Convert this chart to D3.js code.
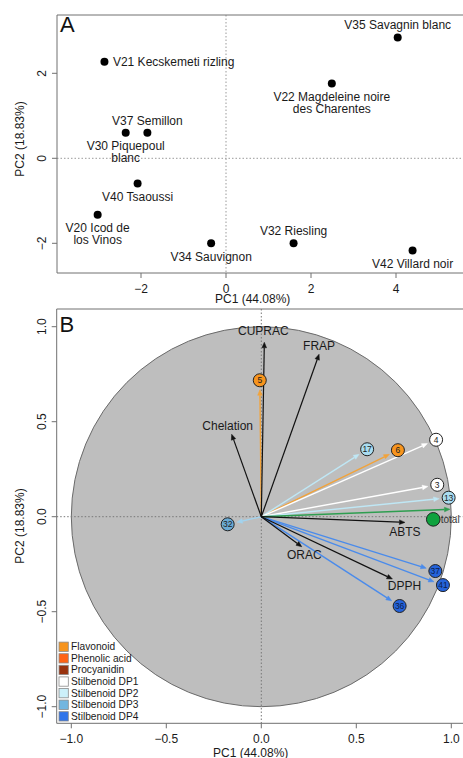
<!DOCTYPE html>
<html><head><meta charset="utf-8">
<script src="https://cdn.jsdelivr.net/npm/d3@7"></script>
<style>html,body{margin:0;padding:0;background:#fff}svg{display:block;font-family:"Liberation Sans",Arial,sans-serif}</style>
</head><body>
<script>
// ---- Panel A data (scores) ----
const wineLabels = ["V21 Kecskemeti rizling","V35 Savagnin blanc","V22 Magdeleine noire\ndes Charentes","V37 Semillon","V30 Piquepoul\nblanc","V40 Tsaoussi","V20 Icod de\nlos Vinos","V34 Sauvignon","V32 Riesling","V42 Villard noir"];
const winePC1 = [-2.86, 4.04, 2.49, -1.85, -2.36, -2.08, -3.02, -0.35, 1.59, 4.39];
const winePC2 = [2.27, 2.84, 1.76, 0.60, 0.60, -0.59, -1.33, -2.00, -2.00, -2.17];
const ticksAx = [-2, 0, 2, 4];
const ticksAy = [-2, 0, 2];

// ---- Panel B data (loadings) ----
const varNames = ["CUPRAC","FRAP","Chelation","ABTS","ORAC","DPPH"];
const varPC1 = [0.016, 0.304, -0.156, 0.756, 0.213, 0.690];
const varPC2 = [0.918, 0.855, 0.434, -0.030, -0.158, -0.328];

const compIds = ["5","6","17","4","3","13","32","37","41","36"];
const compClass = ["Flavonoid","Flavonoid","Stilbenoid DP2","Stilbenoid DP1","Stilbenoid DP1","Stilbenoid DP2","Stilbenoid DP3","Stilbenoid DP4","Stilbenoid DP4","Stilbenoid DP4"];
const compPC1 = [-0.008, 0.719, 0.557, 0.920, 0.926, 0.986, -0.177, 0.916, 0.956, 0.728];
const compPC2 = [0.718, 0.350, 0.355, 0.405, 0.168, 0.100, -0.040, -0.286, -0.360, -0.470];

const totalArrowPC = [0.993, 0.039];
const totalPointPC = [0.905, -0.014];

const legendClasses = ["Flavonoid","Phenolic acid","Procyanidin","Stilbenoid DP1","Stilbenoid DP2","Stilbenoid DP3","Stilbenoid DP4"];
const legendColors = ["#F7941D","#FF6314","#99330F","#FFFFFF","#CCF0FA","#72B6E0","#2F74EA"];
const ticksB = [-1.0, -0.5, 0.0, 0.5, 1.0];

// ---- styling ----
const arrowColor = {"Flavonoid":"#F2A33A","Stilbenoid DP1":"#FFFFFF","Stilbenoid DP2":"#BFE7F5","Stilbenoid DP3":"#A3D3EE","Stilbenoid DP4":"#4A8BEB"};
const circleColor = {"Flavonoid":"#F7941D","Stilbenoid DP1":"#FFFFFF","Stilbenoid DP2":"#A9DCF0","Stilbenoid DP3":"#6AAAD3","Stilbenoid DP4":"#2563DA"};

const W = 463, H = 758;
const svg = d3.select("body").append("svg").attr("width", W).attr("height", H);
const fmt = v => (v < 0 ? "\u2212" : "") + Math.abs(v);
const fmt1 = v => (v < 0 ? "\u2212" : "") + Math.abs(v).toFixed(1);
const frameCol = "#707070", txtCol = "#1a1a1a";

function frame(g, l, t, b) {
  g.append("path").attr("d", `M${W+10},${t}H${l}V${b}H${W+10}`).attr("fill","none").attr("stroke",frameCol).attr("stroke-width",1);
}

// ================= Panel A =================
{
  const L = 57, T = 15, B = 273;
  const x = d3.scaleLinear().domain([0, 2]).range([226, 311]);
  const y = d3.scaleLinear().domain([0, 2]).range([158.3, 73.3]);
  const g = svg.append("g");
  // zero lines
  g.append("line").attr("x1", x(0)).attr("x2", x(0)).attr("y1", T).attr("y2", B)
    .attr("stroke","#9a9a9a").attr("stroke-dasharray","1.5,2");
  g.append("line").attr("x1", L).attr("x2", W).attr("y1", y(0)).attr("y2", y(0))
    .attr("stroke","#9a9a9a").attr("stroke-dasharray","1.5,2");
  frame(g, L, T, B);
  // x axis
  ticksAx.forEach(v => {
    g.append("line").attr("x1", x(v)).attr("x2", x(v)).attr("y1", B).attr("y2", B+5).attr("stroke",frameCol);
    g.append("text").attr("x", x(v)).attr("y", 293).attr("text-anchor","middle").attr("font-size",12).attr("fill",txtCol).text(fmt(v));
  });
  ticksAy.forEach(v => {
    g.append("line").attr("x1", L-5).attr("x2", L).attr("y1", y(v)).attr("y2", y(v)).attr("stroke",frameCol);
    g.append("text").attr("transform",`translate(45.5,${y(v)}) rotate(-90)`).attr("text-anchor","middle").attr("font-size",12).attr("fill",txtCol).text(fmt(v));
  });
  g.append("text").attr("x", 252.7).attr("y", 302.5).attr("text-anchor","middle").attr("font-size",12).attr("fill",txtCol).text("PC1 (44.08%)");
  g.append("text").attr("transform","translate(24,139) rotate(-90)").attr("text-anchor","middle").attr("font-size",12).attr("fill",txtCol).text("PC2 (18.83%)");
  g.append("text").attr("x", 60).attr("y", 32).attr("font-size",22).attr("fill","#111").text("A");
  // points
  const place = ["right","above","below","above","below","below","below","below","above","below"];
  wineLabels.forEach((lab, i) => {
    const px = x(winePC1[i]), py = y(winePC2[i]);
    g.append("circle").attr("cx", px).attr("cy", py).attr("r", 4).attr("fill","#000");
    const lines = lab.split("\n");
    lines.forEach((ln, k) => {
      let tx = px, ty, anchor = "middle";
      if (place[i] === "right") { tx = px + 8.5; ty = py; anchor = "start"; }
      else if (place[i] === "above") { ty = py - 12.5 - (lines.length - 1 - k) * 12.3; }
      else { ty = py + 13 + k * 12.3; }
      g.append("text").attr("x", tx).attr("y", ty).attr("dy","0.35em").attr("text-anchor",anchor)
        .attr("font-size",12).attr("fill",txtCol).text(ln);
    });
  });
}

// ================= Panel B =================
{
  const L = 56.7, T = 309, B = 723.3;
  const x = d3.scaleLinear().domain([0, 1]).range([261.3, 451.3]);
  const y = d3.scaleLinear().domain([0, 1]).range([516.7, 326.7]);
  const g = svg.append("g");
  const defs = svg.append("defs");
  defs.append("clipPath").attr("id","clipB").append("rect").attr("x",L).attr("y",T).attr("width",W-L+10).attr("height",B-T);
  const inner = g.append("g").attr("clip-path","url(#clipB)");
  // unit circle
  inner.append("circle").attr("cx", x(0)).attr("cy", y(0)).attr("r", x(1)-x(0))
    .attr("fill","#BEBEBE").attr("stroke","#6a6a6a").attr("stroke-width",1);
  inner.append("line").attr("x1", x(0)).attr("x2", x(0)).attr("y1", T).attr("y2", B)
    .attr("stroke","#777").attr("stroke-dasharray","1.5,2");
  inner.append("line").attr("x1", L).attr("x2", W).attr("y1", y(0)).attr("y2", y(0))
    .attr("stroke","#777").attr("stroke-dasharray","1.5,2");
  frame(g, L, T, B);
  ticksB.forEach(v => {
    g.append("line").attr("x1", x(v)).attr("x2", x(v)).attr("y1", B).attr("y2", B+5).attr("stroke",frameCol);
    g.append("text").attr("x", x(v)).attr("y", 742.5).attr("text-anchor","middle").attr("font-size",12).attr("fill",txtCol).text(fmt1(v));
    g.append("line").attr("x1", L-5).attr("x2", L).attr("y1", y(v)).attr("y2", y(v)).attr("stroke",frameCol);
    g.append("text").attr("transform",`translate(45.5,${y(v)}) rotate(-90)`).attr("text-anchor","middle").attr("font-size",12).attr("fill",txtCol).text(fmt1(v));
  });
  g.append("text").attr("x", 250.7).attr("y", 756.5).attr("text-anchor","middle").attr("font-size",12).attr("fill",txtCol).text("PC1 (44.08%)");
  g.append("text").attr("transform","translate(24,526) rotate(-90)").attr("text-anchor","middle").attr("font-size",12).attr("fill",txtCol).text("PC2 (18.83%)");
  g.append("text").attr("x", 59.5).attr("y", 332).attr("font-size",22).attr("fill","#111").text("B");

  function arrow(x2, y2, col, w) {
    const x1 = x(0), y1 = y(0);
    const a = Math.atan2(y2 - y1, x2 - x1);
    const len = 5.5, hw = 2.3;
    const bx = x2 - len * Math.cos(a), by = y2 - len * Math.sin(a);
    inner.append("line").attr("x1", x1).attr("y1", y1).attr("x2", bx).attr("y2", by)
      .attr("stroke", col).attr("stroke-width", w);
    const px = -Math.sin(a), py = Math.cos(a);
    inner.append("path").attr("d", `M${x2},${y2}L${bx + hw*px},${by + hw*py}L${bx - hw*px},${by - hw*py}Z`)
      .attr("fill", col).attr("stroke", col).attr("stroke-width", 0.5);
  }
  // compound arrows
  compIds.forEach((id, i) => {
    const cx = x(compPC1[i]), cy = y(compPC2[i]);
    const a = Math.atan2(cy - y(0), cx - x(0));
    const d = 9.5;
    arrow(cx - d*Math.cos(a), cy - d*Math.sin(a), arrowColor[compClass[i]], 1.4);
  });
  arrow(x(totalArrowPC[0]), y(totalArrowPC[1]), "#2E9E50", 1.4);
  // variable arrows
  const labOff = [[-1,-11.5],[0,-8],[-4,-8],[0,9.5],[2.5,8.5],[12,7]];
  varNames.forEach((nm, i) => {
    const tx = x(varPC1[i]), ty = y(varPC2[i]);
    arrow(tx, ty, "#111", 1.2);
    inner.append("text").attr("x", tx + labOff[i][0]).attr("y", ty + labOff[i][1]).attr("dy","0.35em")
      .attr("text-anchor","middle").attr("font-size",12).attr("fill",txtCol).text(nm);
  });
  // compound circles
  compIds.forEach((id, i) => {
    const cx = x(compPC1[i]), cy = y(compPC2[i]);
    inner.append("circle").attr("cx", cx).attr("cy", cy).attr("r", 6.5)
      .attr("fill", circleColor[compClass[i]]).attr("stroke","#222").attr("stroke-width",1);
    inner.append("text").attr("x", cx).attr("y", cy).attr("dy","0.36em").attr("text-anchor","middle")
      .attr("font-size", 8.5).attr("fill", compClass[i] === "Stilbenoid DP4" ? "#0d1f4a" : "#222").text(id);
  });
  // total point
  inner.append("circle").attr("cx", x(totalPointPC[0])).attr("cy", y(totalPointPC[1])).attr("r", 6.8)
    .attr("fill","#0FA23E").attr("stroke","#222").attr("stroke-width",1);
  inner.append("text").attr("x", x(totalPointPC[0]) + 7.5).attr("y", y(totalPointPC[1])).attr("dy","0.35em")
    .attr("font-size", 10).attr("fill","#333").text("total");
  // legend
  legendClasses.forEach((c, i) => {
    const ly = 646.7 + i * 11.6;
    g.append("rect").attr("x", 59).attr("y", ly - 4.6).attr("width", 9.3).attr("height", 9.3)
      .attr("fill", legendColors[i]).attr("stroke","#8a8a8a").attr("stroke-width",0.8);
    g.append("text").attr("x", 71).attr("y", ly).attr("dy","0.35em").attr("font-size",10.2).attr("fill",txtCol).text(c);
  });
}
</script>
</body></html>
